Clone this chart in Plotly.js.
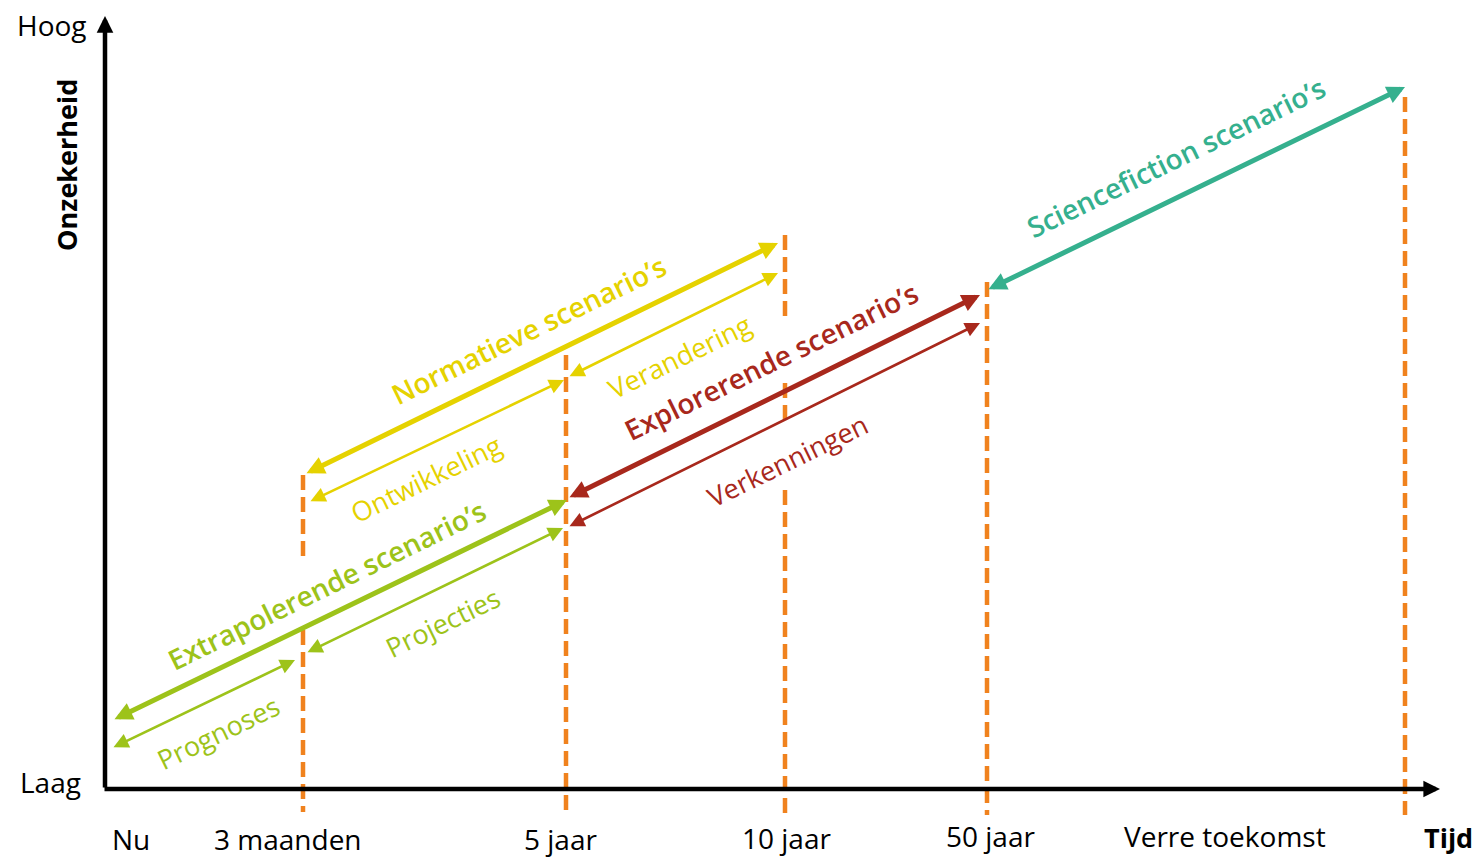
<!DOCTYPE html>
<html>
<head>
<meta charset="utf-8">
<script src="https://cdn.plot.ly/plotly-3.0.1.min.js"></script>
<style>
  html, body { margin: 0; padding: 0; background: #ffffff; }
  #chart { width: 1475px; height: 858px; }
</style>
</head>
<body>
<div id="chart"></div>
<script>
// ---------------- DATA ----------------
// Time axis labels (x in "time" units, origin at "Nu" axis)
const timeLabels = ['Nu', '3 maanden', '5 jaar', '10 jaar', '50 jaar', 'Verre toekomst'];
const timeLabelX = [26, 183, 455, 681, 885, 1120];
const timeLabelY = [-50, -50, -50, -49, -47, -47];

// Time horizons marked with dashed lines (x) and their vertical extent (uncertainty)
const horizonX      = [198, 198, 461, 680, 680, 680, 882, 1300];
const horizonTop    = [314, 159, 434, 554, 406, 299, 507, 692];
const horizonBottom = [229, -23, -26, 469, 362, -26, -26, -26];

// Scenario arrows: start (x0,y0) -> end (x1,y1) in time / uncertainty units
const arrowNames = ["Extrapolerende scenario’s", 'Prognoses', 'Projecties',
                    "Normatieve scenario’s", 'Ontwikkeling', 'Verandering',
                    "Explorerende scenario’s", 'Verkenningen',
                    "Sciencefiction scenario’s"];
const arrowGroup = ['extra', 'extra', 'extra', 'norm', 'norm', 'norm', 'expl', 'expl', 'scifi'];
const arrowMain  = [true, false, false, true, false, false, true, false, true];
const arrowX0 = [8,   7,   201, 200, 204, 463, 463, 463, 882];
const arrowY0 = [69,  41,  136, 315, 287, 412, 291, 262, 499];
const arrowX1 = [462, 190, 458, 673, 459, 673, 875, 875, 1300];
const arrowY1 = [289, 129, 261, 546, 409, 516, 494, 466, 702];
// Label centres
const labelX = [221, 113, 337, 423, 321, 574, 666, 682, 1071];
const labelY = [204, 57,  167, 459, 311, 433, 428, 329, 632];

// Axis extents
const axisTimeEnd = 1335;
const axisUncEnd = 773;

// ---------------- STYLE ----------------
const groupColor = { extra: '#9DC31A', norm: '#E5D200', expl: '#A8281C', scifi: '#35B08E' };
const orange = '#F0821E';
const FONT = '"Open Sans", Roboto, "Liberation Sans", sans-serif';
const slope = -26;

// ---------------- BUILD ----------------
const traces = [];
const dx = [], dy = [];
for (let i = 0; i < horizonX.length; i++) {
  dx.push(horizonX[i], horizonX[i], null);
  dy.push(horizonTop[i], horizonBottom[i], null);
}
traces.push({
  type: 'scatter', mode: 'lines', x: dx, y: dy, hoverinfo: 'skip',
  line: { color: orange, width: 4.5, dash: '15px,7px' }, connectgaps: false
});

const annotations = [];
annotations.push({
  x: 0, y: axisUncEnd, ax: 0, ay: 0, xref: 'x', yref: 'y', axref: 'x', ayref: 'y',
  text: '', showarrow: true, arrowhead: 2, arrowsize: 0.74, arrowwidth: 4.5, arrowcolor: '#000'
});
annotations.push({
  x: axisTimeEnd, y: 0, ax: -2, ay: 0, xref: 'x', yref: 'y', axref: 'x', ayref: 'y',
  text: '', showarrow: true, arrowhead: 2, arrowsize: 0.74, arrowwidth: 4.5, arrowcolor: '#000'
});

for (let i = 0; i < arrowNames.length; i++) {
  const c = groupColor[arrowGroup[i]];
  const w = arrowMain[i] ? 5 : 2.6;
  annotations.push({
    x: arrowX1[i], y: arrowY1[i], ax: arrowX0[i], ay: arrowY0[i],
    xref: 'x', yref: 'y', axref: 'x', ayref: 'y',
    text: '', showarrow: true, arrowside: 'end+start',
    arrowhead: 2, startarrowhead: 2,
    arrowsize: arrowMain[i] ? 0.72 : 1.15, startarrowsize: arrowMain[i] ? 0.72 : 1.15,
    arrowwidth: w, arrowcolor: c
  });
  annotations.push({
    x: labelX[i], y: labelY[i], xref: 'x', yref: 'y', showarrow: false,
    text: arrowNames[i], textangle: slope,
    font: { family: FONT, size: arrowMain[i] ? 28 : 27, color: c, weight: arrowMain[i] ? 600 : 400 }
  });
}

for (let i = 0; i < timeLabels.length; i++) {
  annotations.push({
    x: timeLabelX[i], y: timeLabelY[i], xref: 'x', yref: 'y', showarrow: false,
    text: timeLabels[i], font: { family: FONT, size: 28, color: '#000' }
  });
}
annotations.push({ x: 1343, y: -48, xref: 'x', yref: 'y', showarrow: false,
  text: '<b>Tijd</b>', font: { family: FONT, size: 27, color: '#000' } });
annotations.push({ x: -53, y: 764, xref: 'x', yref: 'y', showarrow: false,
  text: 'Hoog', font: { family: FONT, size: 28, color: '#000' } });
annotations.push({ x: -55, y: 7, xref: 'x', yref: 'y', showarrow: false,
  text: 'Laag', font: { family: FONT, size: 28, color: '#000' } });
annotations.push({ x: -39, y: 624, xref: 'x', yref: 'y', showarrow: false, textangle: -90,
  text: '<b>Onzekerheid</b>', font: { family: FONT, size: 27, color: '#000' } });

const layout = {
  width: 1475, height: 858,
  margin: { l: 0, r: 0, t: 0, b: 0, pad: 0 },
  paper_bgcolor: '#ffffff', plot_bgcolor: '#ffffff',
  showlegend: false,
  xaxis: { range: [-105, 1370], visible: false, fixedrange: true },
  yaxis: { range: [-69, 789], visible: false, fixedrange: true },
  annotations: annotations
};

Plotly.newPlot('chart', traces, layout, { staticPlot: true, displayModeBar: false });
</script>
</body>
</html>
